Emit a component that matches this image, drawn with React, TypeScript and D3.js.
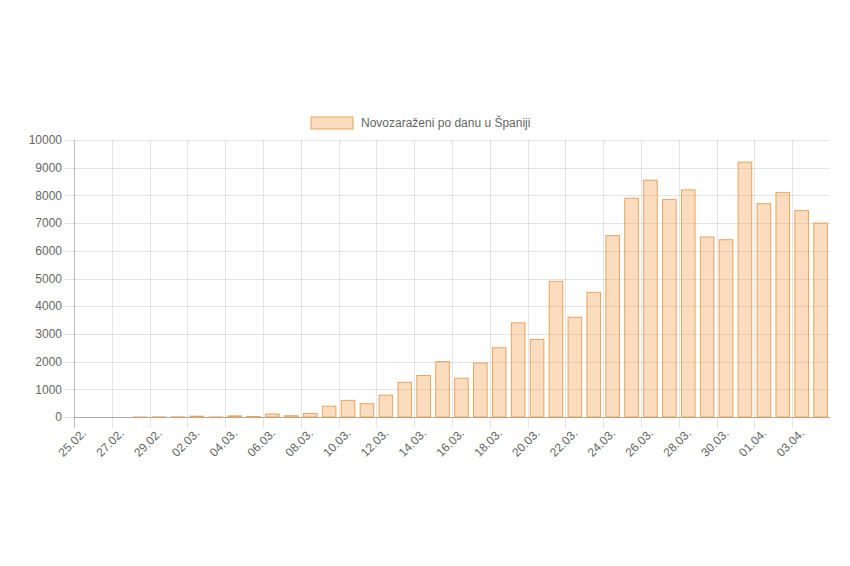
import React, { useRef, useEffect } from 'react';
import * as d3 from 'd3';

// dates shown on the x axis (one bar per day)
const days: string[] = [
  '25.02.', '26.02.', '27.02.', '28.02.', '29.02.',
  '01.03.', '02.03.', '03.03.', '04.03.', '05.03.', '06.03.', '07.03.', '08.03.', '09.03.', '10.03.',
  '11.03.', '12.03.', '13.03.', '14.03.', '15.03.', '16.03.', '17.03.', '18.03.', '19.03.', '20.03.',
  '21.03.', '22.03.', '23.03.', '24.03.', '25.03.', '26.03.', '27.03.', '28.03.', '29.03.', '30.03.',
  '31.03.', '01.04.', '02.04.', '03.04.', '04.04.',
];

// new infections per day
const newCases: number[] = [
  0, 0, 0, 1, 4,
  6, 30, 2, 40, 18, 110, 45, 130, 390, 600,
  480, 790, 1250, 1500, 2000, 1400, 1950, 2500, 3400, 2800,
  4900, 3600, 4500, 6550, 7900, 8550, 7850, 8200, 6500, 6400,
  9200, 7700, 8100, 7450, 7000,
];

const yTicks: number[] = [0, 1000, 2000, 3000, 4000, 5000, 6000, 7000, 8000, 9000, 10000];

const seriesLabel = 'Novozaraženi po danu u Španiji';

const W = 850;
const H = 566;
const left = 74;
const right = 830;
const top = 140;
const bottom = 417;
const font = '"Liberation Sans", Arial, Helvetica, sans-serif';
const fill = 'rgba(245, 168, 92, 0.4)';
const stroke = 'rgba(232, 150, 70, 0.85)';

const App: React.FC = () => {
  const ref = useRef<SVGSVGElement>(null);

  useEffect(() => {
    const svg = d3.select(ref.current);
    svg.selectAll('*').remove();

    const x = d3.scaleBand<string>().domain(days).range([left, right]).padding(0);
    const y = d3.scaleLinear().domain([0, 10000]).range([bottom, top]);
    const barW = x.bandwidth() * 0.72;

    // horizontal grid
    svg
      .append('g')
      .selectAll('line')
      .data(yTicks)
      .enter()
      .append('line')
      .attr('x1', left - 10)
      .attr('x2', right)
      .attr('y1', (d) => Math.round(y(d)) + 0.5)
      .attr('y2', (d) => Math.round(y(d)) + 0.5)
      .attr('stroke', 'rgba(0,0,0,0.1)');

    // vertical grid, every second day
    const labelled = days.filter((_, i) => i % 2 === 0);
    svg
      .append('g')
      .selectAll('line')
      .data(labelled)
      .enter()
      .append('line')
      .attr('x1', (d) => Math.round(x(d) as number) + 0.5)
      .attr('x2', (d) => Math.round(x(d) as number) + 0.5)
      .attr('y1', top)
      .attr('y2', bottom + 11)
      .attr('stroke', (d, i) => (i === 0 ? 'rgba(0,0,0,0.25)' : 'rgba(0,0,0,0.1)'));

    // zero line
    svg
      .append('line')
      .attr('x1', left)
      .attr('x2', right)
      .attr('y1', Math.round(y(0)) + 0.5)
      .attr('y2', Math.round(y(0)) + 0.5)
      .attr('stroke', 'rgba(0,0,0,0.25)');

    // bars (empty days draw nothing)
    svg
      .append('g')
      .selectAll('rect')
      .data(newCases.map((v, i) => ({ day: days[i], v })).filter((d) => d.v > 0))
      .enter()
      .append('rect')
      .attr('x', (d) => (x(d.day) as number) + (x.bandwidth() - barW) / 2)
      .attr('width', barW)
      .attr('y', (d) => y(d.v))
      .attr('height', (d) => y(0) - y(d.v))
      .attr('fill', fill)
      .attr('stroke', stroke)
      .attr('stroke-width', 1);

    // y labels
    svg
      .append('g')
      .selectAll('text')
      .data(yTicks)
      .enter()
      .append('text')
      .attr('x', left - 12)
      .attr('y', (d) => y(d))
      .attr('dy', '0.35em')
      .attr('text-anchor', 'end')
      .attr('font-family', font)
      .attr('font-size', 12)
      .attr('fill', '#666')
      .text((d) => d);

    // x labels
    svg
      .append('g')
      .selectAll('text')
      .data(labelled)
      .enter()
      .append('text')
      .attr('transform', (d) => `translate(${(x(d) as number) + 10},${bottom + 14}) rotate(-45)`)
      .attr('dy', '0.35em')
      .attr('text-anchor', 'end')
      .attr('font-family', font)
      .attr('font-size', 12)
      .attr('fill', '#666')
      .text((d) => d);

    // legend
    const lg = svg.append('g').attr('transform', 'translate(311,117)');
    lg.append('rect')
      .attr('width', 42)
      .attr('height', 12)
      .attr('fill', fill)
      .attr('stroke', stroke);
    lg.append('text')
      .attr('x', 50)
      .attr('y', 6)
      .attr('dy', '0.35em')
      .attr('font-family', font)
      .attr('font-size', 12)
      .attr('fill', '#666')
      .text(seriesLabel);
  }, []);

  return (
    <svg
      ref={ref}
      width={W}
      height={H}
      style={{ position: 'absolute', left: 0, top: 0, background: '#fff' }}
    />
  );
};

export default App;
